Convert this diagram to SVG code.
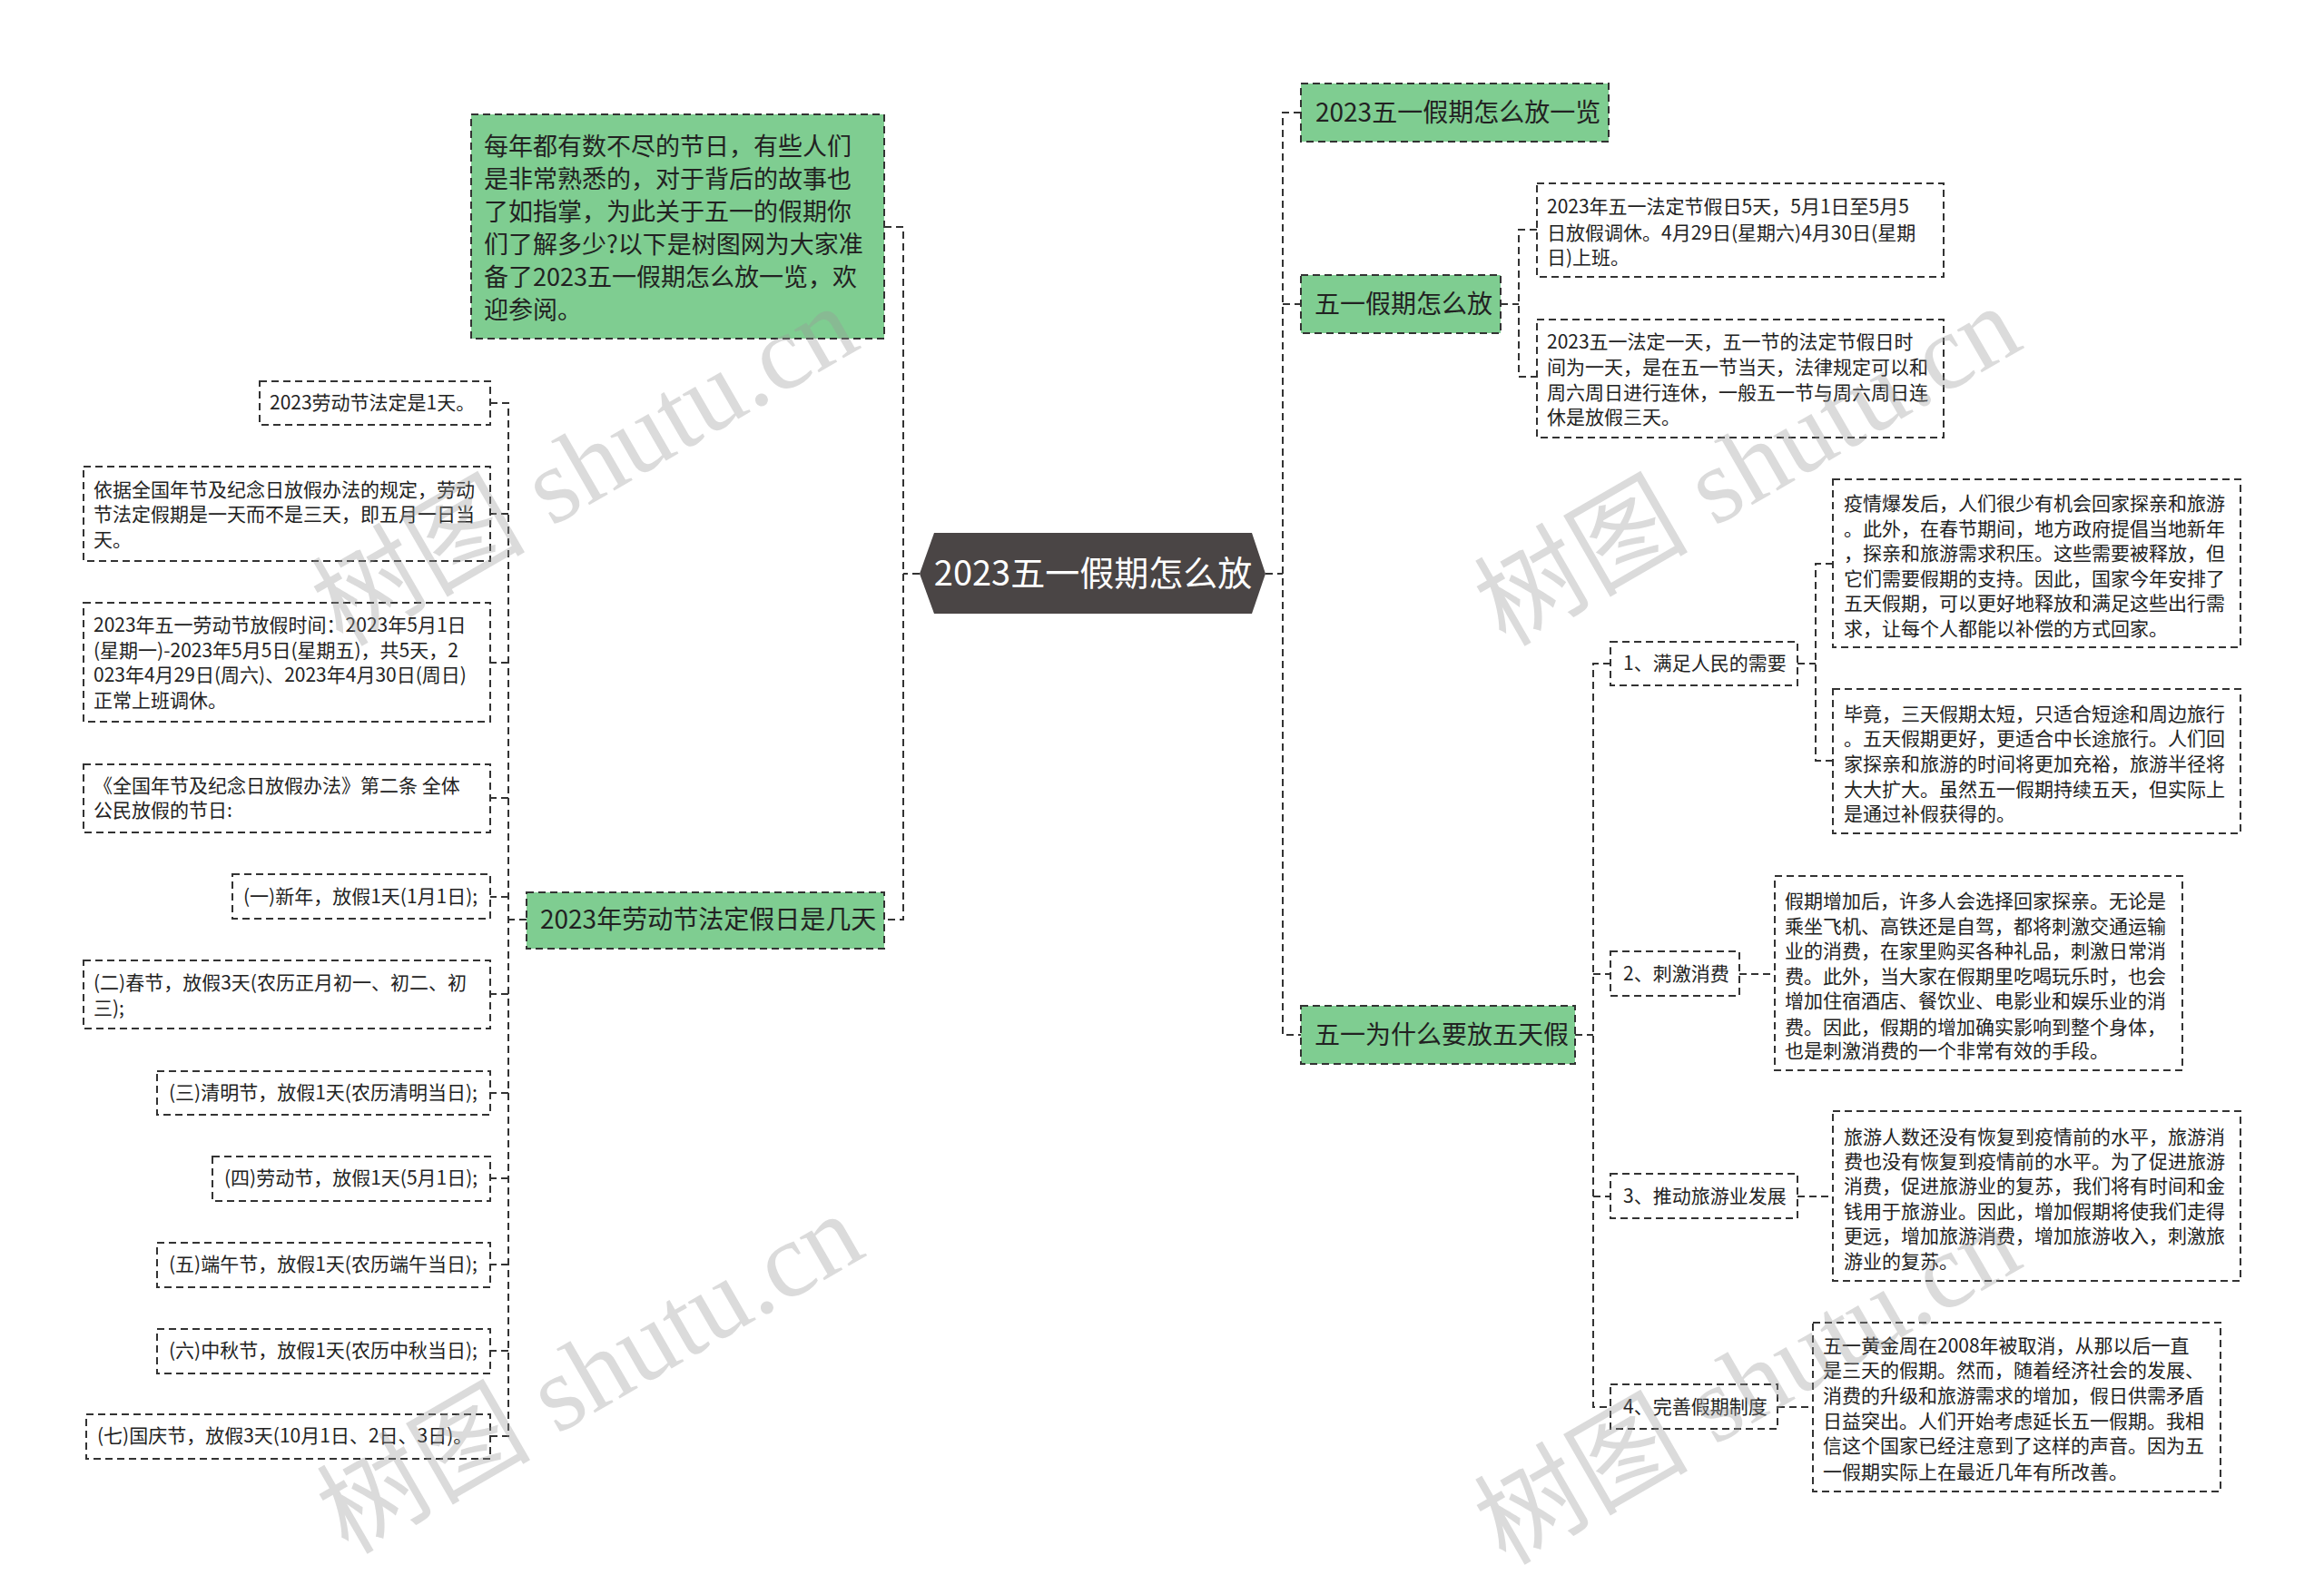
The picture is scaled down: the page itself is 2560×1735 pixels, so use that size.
<svg xmlns="http://www.w3.org/2000/svg" width="2560" height="1735" viewBox="0 0 2560 1735">
<style>
.bg{fill:#ffffff}
.box{fill:#ffffff;stroke:#333;stroke-width:2;stroke-dasharray:8 5}
.gbox{fill:#7fcd91;stroke:#333;stroke-width:2;stroke-dasharray:8 5}
.con{fill:none;stroke:#333;stroke-width:2;stroke-dasharray:8 5}
text{font-family:"Noto Sans CJK SC","Noto Sans",sans-serif;fill:#222}
.t21{font-size:21px}
.t27{font-size:27px}
.t28{font-size:28px}
.ctr{font-size:38px;fill:#ffffff}
.wm{font-family:"Liberation Serif","Noto Sans CJK SC",serif;font-size:118px;fill:#999;opacity:0.35}
</style>
<rect class="bg" x="0" y="0" width="2560" height="1735"/>

<g id="connectors">
<path class="con" d="M1013 632 H995 M974 250 H995 V1013 H974"/>
<path class="con" d="M1394 632 H1413 M1433 124 H1413 V1140 H1433 M1413 335 H1433"/>
<path class="con" d="M580 1013 H560 M540 444 H560 V1582 H540 M560 566 H540 M560 730 H540 M560 879 H540 M560 988 H540 M560 1095 H540 M560 1204 H540 M560 1298 H540 M560 1393 H540 M560 1488 H540"/>
<path class="con" d="M1653 335 H1673 M1693 253 H1673 V415 H1693"/>
<path class="con" d="M1735 1140 H1755 M1774 731 H1755 V1550 H1774 M1755 1073 H1774 M1755 1318 H1774"/>
<path class="con" d="M1980 731 H2000 M2019 621 H2000 V838 H2019"/>
<path class="con" d="M1916 1073 H1955 M1980 1318 H2019 M1958 1550 H1997"/>
</g>

<g id="center">
<polygon points="1013,632 1029,587 1379,587 1394,632 1379,676 1029,676" fill="#4a4545"/>
<text class="ctr" x="1204" y="645" text-anchor="middle">2023五一假期怎么放</text>
</g>

<g id="intro">
<rect class="gbox" x="519" y="126" width="455" height="247"/>
<text class="t27"><tspan x="533" y="171">每年都有数不尽的节日，有些人们</tspan><tspan x="533" y="207">是非常熟悉的，对于背后的故事也</tspan><tspan x="533" y="243">了如指掌，为此关于五一的假期你</tspan><tspan x="533" y="279">们了解多少?以下是树图网为大家准</tspan><tspan x="533" y="315">备了2023五一假期怎么放一览，欢</tspan><tspan x="533" y="351">迎参阅。</tspan></text>
</g>

<g id="labor">
<rect class="gbox" x="580" y="983" width="394" height="62"/>
<text class="t28" x="595" y="1023">2023年劳动节法定假日是几天</text>
</g>

<g id="l1">
<rect class="box" x="286" y="420" width="254" height="48"/>
<text class="t21" x="297" y="451">2023劳动节法定是1天。</text>
</g>
<g id="l2">
<rect class="box" x="92" y="514" width="448" height="104"/>
<text class="t21"><tspan x="103" y="547">依据全国年节及纪念日放假办法的规定，劳动</tspan><tspan x="103" y="574">节法定假期是一天而不是三天，即五月一日当</tspan><tspan x="103" y="602">天。</tspan></text>
</g>
<g id="l3">
<rect class="box" x="92" y="664" width="448" height="131"/>
<text class="t21"><tspan x="103" y="696">2023年五一劳动节放假时间：2023年5月1日</tspan><tspan x="103" y="724">(星期一)-2023年5月5日(星期五)，共5天，2</tspan><tspan x="103" y="751">023年4月29日(周六)、2023年4月30日(周日)</tspan><tspan x="103" y="779">正常上班调休。</tspan></text>
</g>
<g id="l4">
<rect class="box" x="92" y="842" width="448" height="75"/>
<text class="t21"><tspan x="103" y="873">《全国年节及纪念日放假办法》第二条 全体</tspan><tspan x="103" y="900">公民放假的节日:</tspan></text>
</g>
<g id="l5">
<rect class="box" x="256" y="963" width="284" height="49"/>
<text class="t21" x="268" y="995">(一)新年，放假1天(1月1日);</text>
</g>
<g id="l6">
<rect class="box" x="92" y="1058" width="448" height="75"/>
<text class="t21"><tspan x="103" y="1090">(二)春节，放假3天(农历正月初一、初二、初</tspan><tspan x="103" y="1118">三);</tspan></text>
</g>
<g id="l7">
<rect class="box" x="173" y="1180" width="367" height="48"/>
<text class="t21" x="186" y="1211">(三)清明节，放假1天(农历清明当日);</text>
</g>
<g id="l8">
<rect class="box" x="234" y="1274" width="306" height="49"/>
<text class="t21" x="247" y="1305">(四)劳动节，放假1天(5月1日);</text>
</g>
<g id="l9">
<rect class="box" x="173" y="1369" width="367" height="49"/>
<text class="t21" x="186" y="1400">(五)端午节，放假1天(农历端午当日);</text>
</g>
<g id="l10">
<rect class="box" x="173" y="1464" width="367" height="49"/>
<text class="t21" x="186" y="1495">(六)中秋节，放假1天(农历中秋当日);</text>
</g>
<g id="l11">
<rect class="box" x="95" y="1558" width="445" height="49"/>
<text class="t21" x="107" y="1589">(七)国庆节，放假3天(10月1日、2日、3日)。</text>
</g>

<g id="r1">
<rect class="gbox" x="1433" y="92" width="339" height="64"/>
<text class="t28" x="1449" y="134">2023五一假期怎么放一览</text>
</g>
<g id="r2">
<rect class="gbox" x="1433" y="303" width="220" height="64"/>
<text class="t28" x="1448" y="345">五一假期怎么放</text>
</g>
<g id="r2a">
<rect class="box" x="1693" y="202" width="448" height="103"/>
<text class="t21"><tspan x="1704" y="235">2023年五一法定节假日5天，5月1日至5月5</tspan><tspan x="1704" y="264">日放假调休。4月29日(星期六)4月30日(星期</tspan><tspan x="1704" y="291">日)上班。</tspan></text>
</g>
<g id="r2b">
<rect class="box" x="1693" y="352" width="448" height="130"/>
<text class="t21"><tspan x="1704" y="384">2023五一法定一天，五一节的法定节假日时</tspan><tspan x="1704" y="412">间为一天，是在五一节当天，法律规定可以和</tspan><tspan x="1704" y="440">周六周日进行连休，一般五一节与周六周日连</tspan><tspan x="1704" y="467">休是放假三天。</tspan></text>
</g>
<g id="r3">
<rect class="gbox" x="1433" y="1108" width="302" height="64"/>
<text class="t28" x="1448" y="1150">五一为什么要放五天假</text>
</g>

<g id="s1">
<rect class="box" x="1774" y="707" width="206" height="48"/>
<text class="t21" x="1788" y="738">1、满足人民的需要</text>
</g>
<g id="s1a">
<rect class="box" x="2019" y="528" width="449" height="185"/>
<text class="t21"><tspan x="2031" y="562">疫情爆发后，人们很少有机会回家探亲和旅游</tspan><tspan x="2031" y="590">。此外，在春节期间，地方政府提倡当地新年</tspan><tspan x="2031" y="617">，探亲和旅游需求积压。这些需要被释放，但</tspan><tspan x="2031" y="645">它们需要假期的支持。因此，国家今年安排了</tspan><tspan x="2031" y="672">五天假期，可以更好地释放和满足这些出行需</tspan><tspan x="2031" y="700">求，让每个人都能以补偿的方式回家。</tspan></text>
</g>
<g id="s1b">
<rect class="box" x="2019" y="759" width="449" height="159"/>
<text class="t21"><tspan x="2031" y="794">毕竟，三天假期太短，只适合短途和周边旅行</tspan><tspan x="2031" y="821">。五天假期更好，更适合中长途旅行。人们回</tspan><tspan x="2031" y="849">家探亲和旅游的时间将更加充裕，旅游半径将</tspan><tspan x="2031" y="877">大大扩大。虽然五一假期持续五天，但实际上</tspan><tspan x="2031" y="904">是通过补假获得的。</tspan></text>
</g>
<g id="s2">
<rect class="box" x="1774" y="1048" width="142" height="49"/>
<text class="t21" x="1788" y="1080">2、刺激消费</text>
</g>
<g id="s2a">
<rect class="box" x="1955" y="965" width="449" height="214"/>
<text class="t21"><tspan x="1966" y="1000">假期增加后，许多人会选择回家探亲。无论是</tspan><tspan x="1966" y="1028">乘坐飞机、高铁还是自驾，都将刺激交通运输</tspan><tspan x="1966" y="1055">业的消费，在家里购买各种礼品，刺激日常消</tspan><tspan x="1966" y="1083">费。此外，当大家在假期里吃喝玩乐时，也会</tspan><tspan x="1966" y="1110">增加住宿酒店、餐饮业、电影业和娱乐业的消</tspan><tspan x="1966" y="1139">费。因此，假期的增加确实影响到整个身体，</tspan><tspan x="1966" y="1165">也是刺激消费的一个非常有效的手段。</tspan></text>
</g>
<g id="s3">
<rect class="box" x="1774" y="1293" width="206" height="49"/>
<text class="t21" x="1788" y="1325">3、推动旅游业发展</text>
</g>
<g id="s3a">
<rect class="box" x="2019" y="1224" width="449" height="187"/>
<text class="t21"><tspan x="2031" y="1260">旅游人数还没有恢复到疫情前的水平，旅游消</tspan><tspan x="2031" y="1287">费也没有恢复到疫情前的水平。为了促进旅游</tspan><tspan x="2031" y="1314">消费，促进旅游业的复苏，我们将有时间和金</tspan><tspan x="2031" y="1342">钱用于旅游业。因此，增加假期将使我们走得</tspan><tspan x="2031" y="1369">更远，增加旅游消费，增加旅游收入，刺激旅</tspan><tspan x="2031" y="1397">游业的复苏。</tspan></text>
</g>
<g id="s4">
<rect class="box" x="1774" y="1525" width="184" height="49"/>
<text class="t21" x="1788" y="1557">4、完善假期制度</text>
</g>
<g id="s4a">
<rect class="box" x="1997" y="1457" width="449" height="186"/>
<text class="t21"><tspan x="2008" y="1490">五一黄金周在2008年被取消，从那以后一直</tspan><tspan x="2008" y="1517">是三天的假期。然而，随着经济社会的发展、</tspan><tspan x="2008" y="1545">消费的升级和旅游需求的增加，假日供需矛盾</tspan><tspan x="2008" y="1573">日益突出。人们开始考虑延长五一假期。我相</tspan><tspan x="2008" y="1600">信这个国家已经注意到了这样的声音。因为五</tspan><tspan x="2008" y="1629">一假期实际上在最近几年有所改善。</tspan></text>
</g>

<g id="watermarks">
<text class="wm" text-anchor="middle" transform="translate(644,513) rotate(-30)" y="40">树图 shutu.cn</text>
<text class="wm" text-anchor="middle" transform="translate(650,1513) rotate(-30)" y="40">树图 shutu.cn</text>
<text class="wm" text-anchor="middle" transform="translate(1925,513) rotate(-30)" y="40">树图 shutu.cn</text>
<text class="wm" text-anchor="middle" transform="translate(1925,1525) rotate(-30)" y="40">树图 shutu.cn</text>
</g>
</svg>
